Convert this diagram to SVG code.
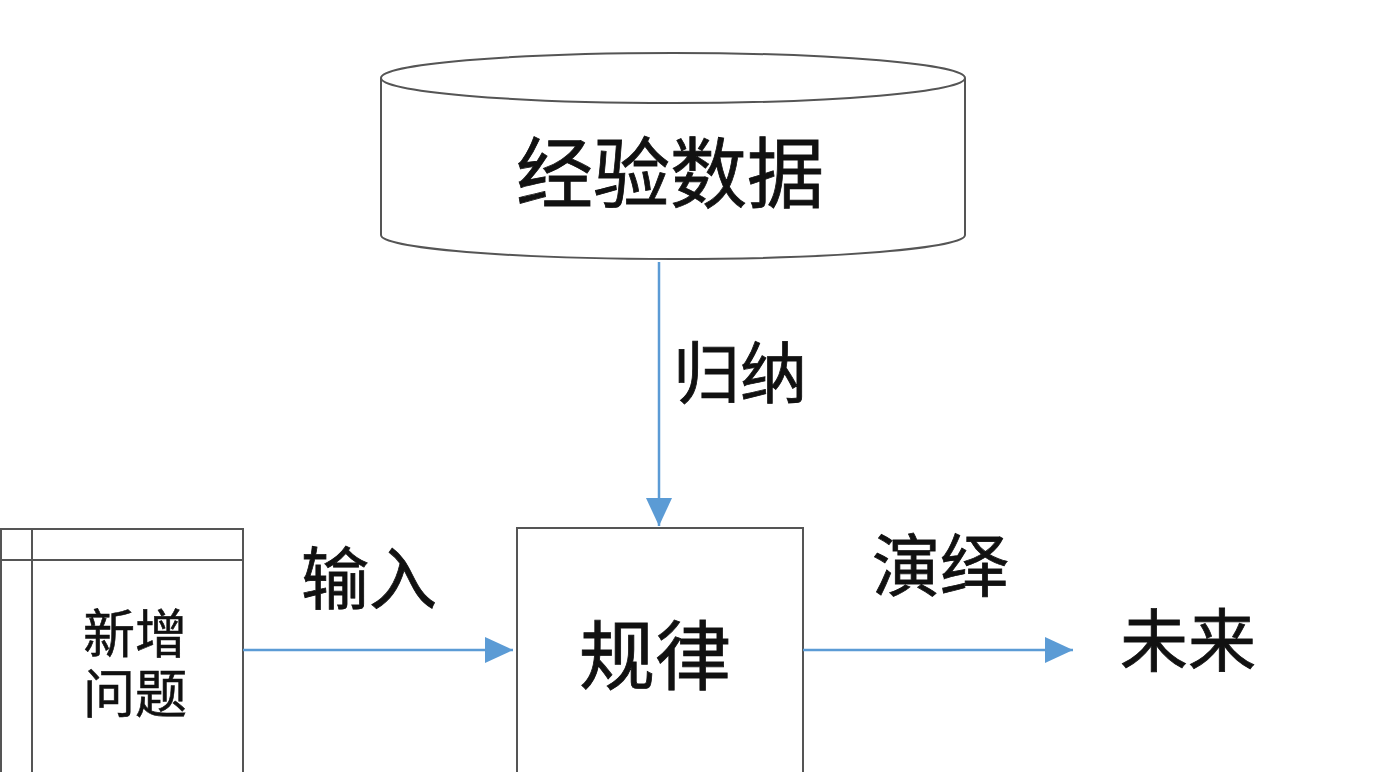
<svg xmlns="http://www.w3.org/2000/svg" width="1384" height="772" viewBox="0 0 1384 772">
<style>
.box{fill:#fff;stroke:#555;stroke-width:2}
.t{font-family:"Noto Sans CJK SC","Noto Sans",sans-serif;fill:#111;text-anchor:middle;dominant-baseline:central}
.c{stroke:#5B9BD5;stroke-width:2.5;fill:none}
</style>
<defs>
<marker id="ah2" viewBox="0 0 28 26" refX="28" refY="13" markerWidth="28" markerHeight="26" markerUnits="userSpaceOnUse" orient="auto">
<path d="M0,0 L28,13 L0,26 Z" fill="#5B9BD5"/>
</marker>
</defs>
<rect width="1384" height="772" fill="#fff"/>
<g id="data">
<path class="box" d="M381,78 L381,235 A292,24 0 0 0 965,235 L965,78"/>
<ellipse class="box" cx="673" cy="78" rx="292" ry="25"/>
<text class="t" x="670" y="168" font-size="77" stroke="#111" stroke-width="0.8">经验数据</text>
</g>
<g id="rule">
<rect class="box" x="517" y="528" width="286" height="250"/>
<text class="t" x="655" y="651" font-size="76" stroke="#111" stroke-width="0.8">规律</text>
</g>
<g id="newq">
<rect class="box" x="1" y="529" width="242" height="250"/>
<line class="box" x1="32" y1="529" x2="32" y2="772"/>
<line class="box" x1="1" y1="560" x2="243" y2="560"/>
<text class="t" font-size="52" stroke="#111" stroke-width="0.6"><tspan x="135" y="630">新增</tspan><tspan x="135" y="690">问题</tspan></text>
</g>
<g id="future">
<text class="t" x="1188" y="636" font-size="68" stroke="#111" stroke-width="0.8">未来</text>
</g>
<g id="connectors">
<line class="c" x1="659" y1="262" x2="659" y2="526" marker-end="url(#ah2)"/>
<line class="c" x1="243" y1="650" x2="513" y2="650" marker-end="url(#ah2)"/>
<line class="c" x1="803" y1="650" x2="1073" y2="650" marker-end="url(#ah2)"/>
<text class="t" x="740" y="368" font-size="67" stroke="#111" stroke-width="0.8">归纳</text>
<text class="t" x="369" y="574" font-size="68" stroke="#111" stroke-width="0.8">输入</text>
<text class="t" x="940" y="561" font-size="68" stroke="#111" stroke-width="0.8">演绎</text>
</g>
</svg>
